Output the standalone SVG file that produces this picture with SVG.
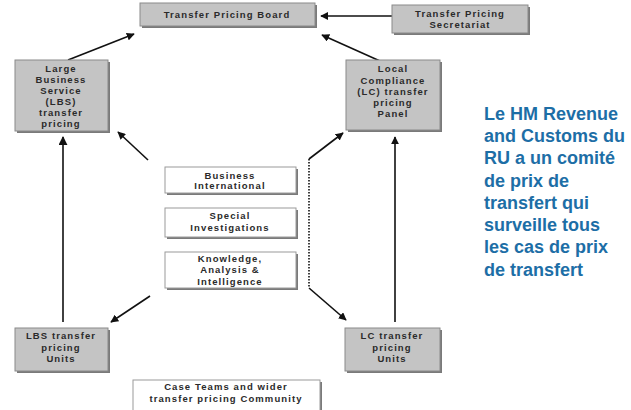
<svg xmlns="http://www.w3.org/2000/svg" width="631" height="410" viewBox="0 0 631 410">
<defs>
<marker id="ah" viewBox="0 0 10 10" refX="9" refY="5" markerWidth="8" markerHeight="8" markerUnits="userSpaceOnUse" orient="auto"><path d="M0,0 L10,5 L0,10 z" fill="#111"/></marker>
<marker id="ahb" viewBox="0 0 10 10" refX="9" refY="5" markerWidth="9" markerHeight="9" markerUnits="userSpaceOnUse" orient="auto"><path d="M0,0 L10,5 L0,10 z" fill="#111"/></marker>
</defs>
<style>
.g{fill:#c4c4c4;stroke:#8a8a8a;stroke-width:1}
.w{fill:#ffffff;stroke:#9a9a9a;stroke-width:1}
.sh{fill:#7a7a7a}
.t{font-family:"Liberation Sans",Arial,sans-serif;font-size:9.5px;font-weight:bold;fill:#2a2a2a;text-anchor:middle;letter-spacing:1.1px}
.r{font-family:"Liberation Sans",Arial,sans-serif;font-size:18px;font-weight:bold;fill:#1d6ea6}
.c{stroke:#111;fill:none;stroke-width:1.6}
</style>
<g id="connectors">
<line class="c" x1="392" y1="16" x2="321" y2="16" marker-end="url(#ah)"/>
<line class="c" x1="68" y1="60" x2="134" y2="34" marker-end="url(#ah)"/>
<line class="c" x1="380" y1="61" x2="322" y2="35" marker-end="url(#ah)"/>
<line class="c" x1="63" y1="322" x2="63" y2="137" stroke-width="2.6" marker-end="url(#ahb)"/>
<line class="c" x1="148" y1="160" x2="118" y2="132" marker-end="url(#ah)"/>
<line class="c" x1="395" y1="322" x2="395" y2="137" stroke-width="1.6" marker-end="url(#ah)"/>
<line class="c" x1="309" y1="159" x2="309" y2="288" stroke-dasharray="1.5,1.5" stroke-width="1.8"/>
<line class="c" x1="309" y1="159" x2="343" y2="133" marker-end="url(#ah)"/>
<line class="c" x1="309" y1="288" x2="346" y2="320" marker-end="url(#ah)"/>
<line class="c" x1="150" y1="296" x2="111" y2="322" marker-end="url(#ah)"/>
</g>
<g id="board">
<rect class="sh" x="142" y="5" width="175" height="23"/>
<rect class="g" x="140" y="3" width="175" height="23"/>
<text class="t" x="227" y="18">Transfer Pricing Board</text>
</g>
<g id="secretariat">
<rect class="sh" x="394" y="7" width="136" height="28"/>
<rect class="g" x="392" y="5" width="136" height="28"/>
<text class="t" x="460" y="17">Transfer Pricing</text>
<text class="t" x="460" y="28">Secretariat</text>
</g>
<g id="lbs">
<rect class="sh" x="17" y="62" width="93" height="71"/>
<rect class="g" x="15" y="60" width="93" height="71"/>
<text class="t" x="61" y="72">Large</text>
<text class="t" x="61" y="83">Business</text>
<text class="t" x="61" y="94">Service</text>
<text class="t" x="61" y="105">(LBS)</text>
<text class="t" x="61" y="116">transfer</text>
<text class="t" x="61" y="127">pricing</text>
</g>
<g id="lc">
<rect class="sh" x="348" y="62" width="94" height="70"/>
<rect class="g" x="346" y="60" width="94" height="70"/>
<text class="t" x="393" y="72">Local</text>
<text class="t" x="393" y="84">Compliance</text>
<text class="t" x="393" y="95">(LC) transfer</text>
<text class="t" x="393" y="106">pricing</text>
<text class="t" x="393" y="117">Panel</text>
</g>
<g id="bi">
<rect class="sh" x="167" y="169" width="131" height="26"/>
<rect class="w" x="165" y="167" width="131" height="26"/>
<text class="t" x="230" y="179">Business</text>
<text class="t" x="230" y="189">International</text>
</g>
<g id="si">
<rect class="sh" x="167" y="210" width="131" height="29"/>
<rect class="w" x="165" y="208" width="131" height="29"/>
<text class="t" x="230" y="219">Special</text>
<text class="t" x="230" y="231">Investigations</text>
</g>
<g id="kai">
<rect class="sh" x="167" y="254" width="131" height="36"/>
<rect class="w" x="165" y="252" width="131" height="36"/>
<text class="t" x="230" y="262">Knowledge,</text>
<text class="t" x="230" y="273">Analysis &amp;</text>
<text class="t" x="230" y="285">Intelligence</text>
</g>
<g id="lbsunits">
<rect class="sh" x="17" y="330" width="93" height="43"/>
<rect class="g" x="15" y="328" width="93" height="43"/>
<text class="t" x="61" y="339">LBS transfer</text>
<text class="t" x="61" y="351">pricing</text>
<text class="t" x="61" y="362">Units</text>
</g>
<g id="lcunits">
<rect class="sh" x="347" y="330" width="95" height="43"/>
<rect class="g" x="345" y="328" width="95" height="43"/>
<text class="t" x="392" y="339">LC transfer</text>
<text class="t" x="392" y="351">pricing</text>
<text class="t" x="392" y="362">Units</text>
</g>
<g id="caseteams">
<rect class="sh" x="135" y="382" width="187" height="30"/>
<rect class="w" x="133" y="380" width="187" height="32"/>
<text class="t" x="226" y="390">Case Teams and wider</text>
<text class="t" x="226" y="402">transfer pricing Community</text>
</g>
<g id="note">
<text class="r" x="484" y="120">Le HM Revenue</text>
<text class="r" x="484" y="142">and Customs du</text>
<text class="r" x="484" y="164">RU a un comité</text>
<text class="r" x="484" y="187">de prix de</text>
<text class="r" x="484" y="209">transfert qui</text>
<text class="r" x="484" y="231">surveille tous</text>
<text class="r" x="484" y="253">les cas de prix</text>
<text class="r" x="484" y="276">de transfert</text>
</g>
</svg>
